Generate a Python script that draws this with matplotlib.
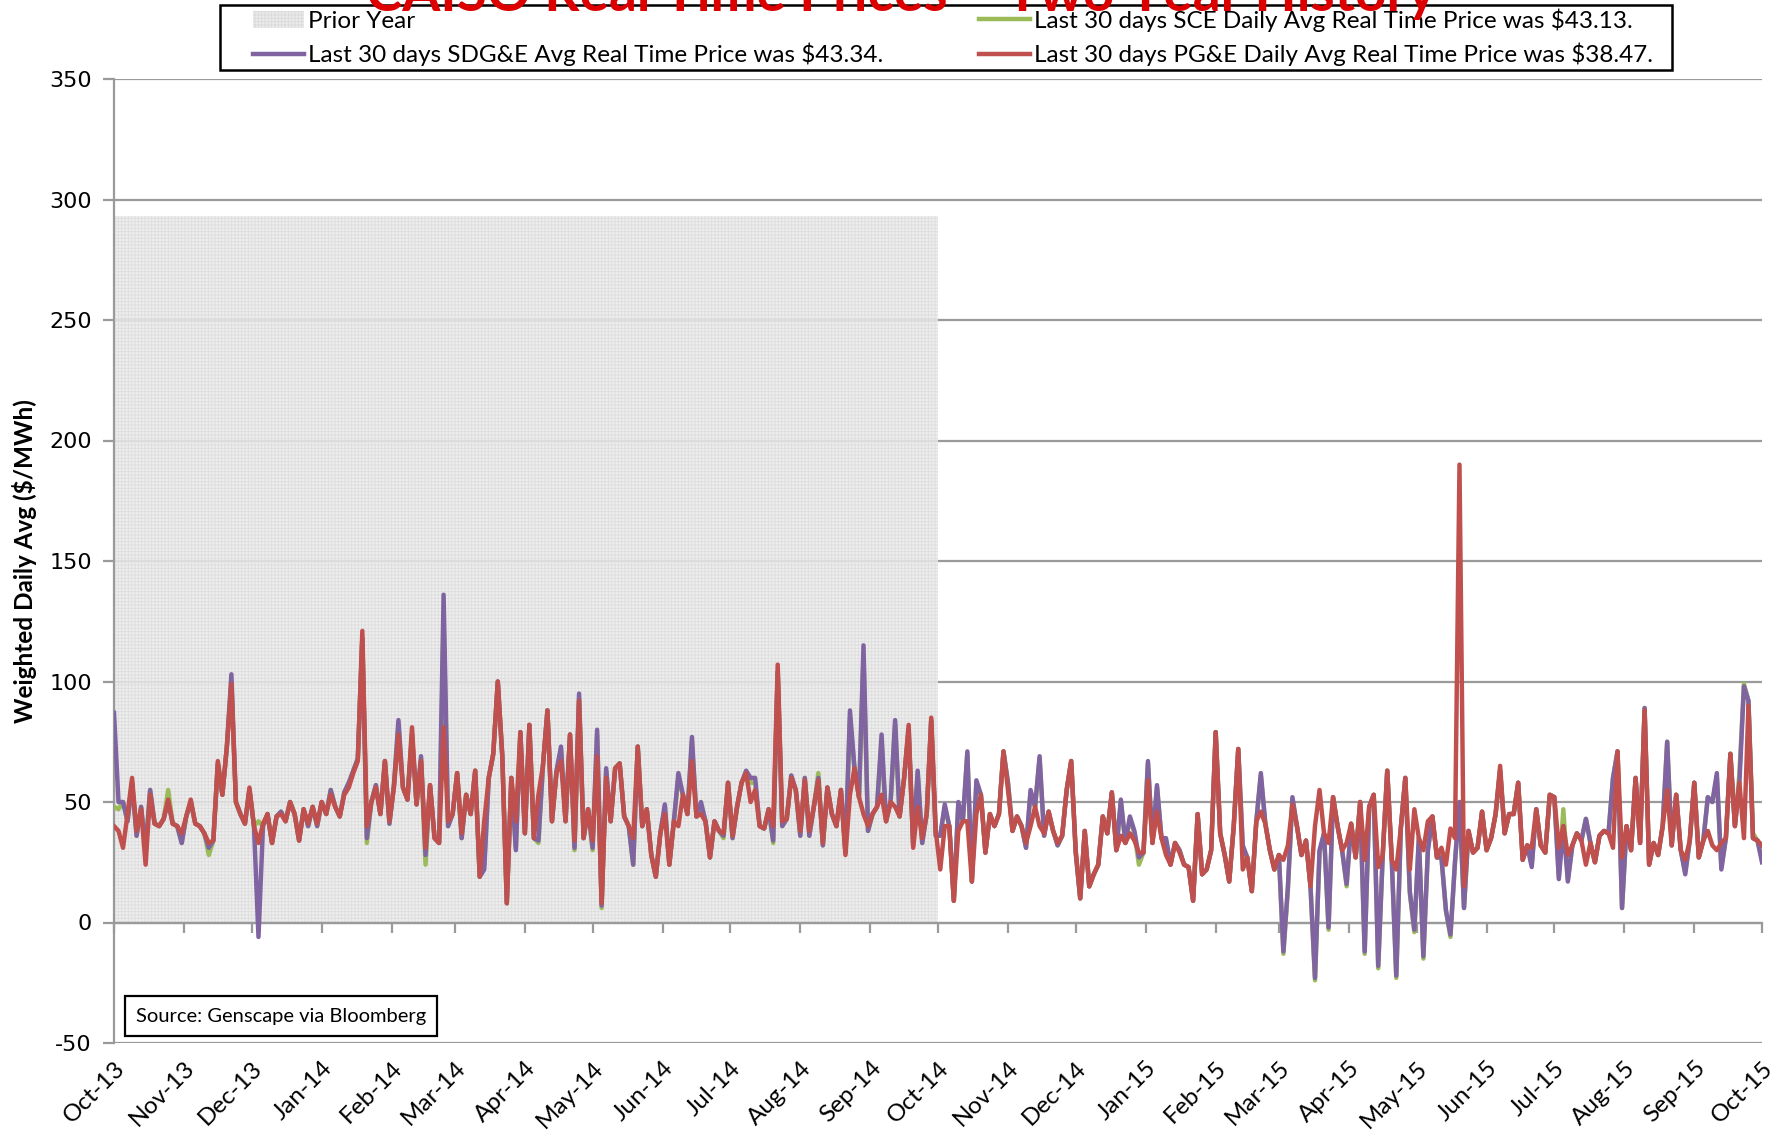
import matplotlib
matplotlib.use("Agg")
import matplotlib.pyplot as plt
import matplotlib.dates as mdates
from matplotlib.patches import Patch, Rectangle
from matplotlib.lines import Line2D
import pandas as pd

# daily avg real time prices, sampled every 2 days from 2013-10-01
start_date = "2013-10-01"
prior_year_end = "2014-10-01"
prior_year_top = 293

pge = [40, 38, 31, 45, 60, 38, 47, 24, 53, 41, 40, 43, 51, 41, 40, 37,
       44, 51, 41, 40, 37, 33, 34, 67, 53, 73, 99, 50, 45, 41, 56, 40,
       33, 41, 45, 33, 44, 45, 42, 50, 45, 34, 47, 41, 48, 41, 50, 45,
       53, 48, 44, 53, 56, 62, 67, 121, 40, 50, 56, 45, 67, 42, 56, 78,
       56, 51, 81, 49, 67, 31, 57, 35, 33, 81, 42, 45, 62, 37, 53, 45,
       63, 19, 42, 60, 70, 100, 69, 8, 60, 42, 79, 37, 82, 35, 53, 65,
       88, 42, 62, 67, 42, 78, 34, 92, 35, 47, 34, 69, 8, 60, 42, 64,
       66, 44, 40, 35, 73, 40, 47, 28, 19, 37, 45, 24, 42, 40, 53, 45,
       67, 44, 45, 42, 27, 42, 38, 37, 58, 36, 48, 58, 62, 50, 55, 40,
       39, 47, 40, 107, 42, 43, 60, 55, 38, 59, 38, 48, 59, 33, 56, 45,
       40, 55, 28, 53, 64, 52, 45, 40, 45, 48, 53, 42, 50, 48, 44, 60,
       82, 31, 48, 35, 45, 85, 38, 22, 40, 40, 9, 38, 42, 42, 17, 45,
       53, 29, 45, 40, 45, 71, 55, 38, 44, 40, 33, 40, 48, 40, 37, 46,
       38, 33, 36, 55, 67, 30, 10, 38, 15, 20, 24, 44, 37, 54, 30, 36,
       33, 37, 34, 29, 29, 59, 33, 46, 35, 28, 24, 33, 29, 24, 23, 9,
       45, 20, 22, 30, 79, 37, 28, 17, 40, 72, 22, 27, 13, 42, 46, 41,
       30, 22, 28, 26, 32, 49, 40, 28, 34, 15, 40, 55, 37, 33, 52, 40,
       30, 33, 41, 27, 50, 26, 48, 53, 23, 28, 63, 26, 22, 39, 60, 22,
       47, 35, 30, 42, 44, 27, 31, 24, 39, 35, 190, 15, 38, 29, 31, 46,
       30, 35, 45, 65, 37, 45, 45, 58, 26, 32, 31, 47, 32, 29, 53, 52,
       31, 40, 28, 32, 37, 34, 24, 33, 25, 36, 38, 37, 31, 71, 27, 40,
       30, 60, 33, 88, 24, 33, 28, 40, 55, 32, 53, 30, 26, 34, 58, 27,
       34, 38, 32, 30, 33, 35, 70, 40, 58, 35, 90, 35, 34, 32]

sdge = [87, 50, 50, 42, 58, 36, 48, 30, 55, 41, 40, 43, 50, 41, 40, 33,
        44, 50, 41, 40, 37, 31, 34, 66, 53, 73, 103, 50, 45, 41, 55, 40,
        -6, 40, 45, 33, 44, 46, 42, 50, 45, 34, 47, 40, 48, 40, 50, 45,
        55, 48, 44, 54, 58, 63, 68, 118, 35, 50, 57, 45, 67, 41, 57, 84,
        56, 51, 78, 49, 69, 28, 57, 35, 33, 136, 40, 45, 62, 35, 53, 45,
        63, 19, 22, 60, 70, 100, 69, 8, 60, 30, 79, 37, 82, 35, 34, 65,
        88, 42, 63, 73, 42, 78, 31, 95, 35, 47, 31, 80, 7, 64, 42, 64,
        66, 44, 40, 24, 73, 40, 47, 28, 19, 37, 49, 24, 42, 62, 53, 45,
        77, 44, 50, 42, 27, 42, 38, 36, 58, 35, 48, 58, 63, 60, 60, 40,
        39, 47, 34, 104, 40, 43, 61, 55, 36, 60, 36, 48, 60, 32, 56, 45,
        40, 55, 29, 88, 64, 52, 115, 38, 45, 48, 78, 42, 50, 84, 44, 60,
        80, 32, 63, 33, 45, 84, 36, 36, 49, 40, 9, 50, 42, 71, 17, 59,
        53, 29, 45, 40, 45, 71, 58, 38, 44, 40, 31, 55, 48, 69, 36, 46,
        38, 32, 36, 55, 67, 29, 10, 38, 15, 20, 24, 44, 37, 54, 30, 51,
        33, 44, 38, 27, 29, 67, 33, 57, 35, 35, 24, 33, 30, 24, 23, 9,
        45, 20, 22, 30, 79, 37, 28, 17, 40, 72, 32, 27, 13, 42, 62, 41,
        30, 22, 28, -12, 15, 52, 40, 28, 34, 15, -23, 30, 37, -2, 52, 40,
        30, 16, 41, 27, 50, -12, 48, 53, -18, 28, 63, 26, -22, 39, 60, 13,
        -3, 35, -14, 30, 44, 27, 27, 5, -5, 25, 50, 6, 38, 29, 31, 46,
        30, 35, 45, 63, 37, 45, 45, 58, 26, 32, 23, 47, 32, 29, 53, 52,
        18, 40, 17, 32, 37, 34, 43, 33, 25, 36, 38, 37, 60, 71, 6, 40,
        30, 60, 33, 89, 24, 33, 28, 40, 75, 32, 53, 30, 20, 34, 58, 27,
        34, 52, 50, 62, 22, 35, 70, 40, 58, 98, 92, 35, 34, 25]

sce = [48, 47, 50, 42, 58, 36, 48, 30, 55, 41, 40, 43, 55, 41, 40, 33,
       44, 50, 41, 40, 37, 28, 34, 66, 53, 73, 100, 50, 45, 41, 55, 40,
       42, 40, 45, 33, 44, 46, 42, 50, 45, 34, 47, 40, 48, 40, 50, 45,
       55, 48, 44, 54, 58, 63, 68, 118, 33, 50, 57, 45, 67, 41, 57, 82,
       56, 51, 78, 49, 68, 24, 57, 35, 33, 125, 40, 45, 62, 35, 53, 45,
       63, 19, 24, 60, 70, 100, 69, 8, 60, 31, 79, 37, 82, 35, 33, 65,
       88, 42, 62, 72, 42, 78, 30, 93, 35, 47, 30, 78, 6, 63, 42, 64,
       66, 44, 40, 24, 73, 40, 47, 28, 19, 37, 48, 24, 42, 60, 53, 45,
       75, 44, 49, 42, 27, 42, 38, 35, 58, 35, 48, 58, 62, 58, 58, 40,
       39, 47, 33, 104, 40, 43, 61, 55, 36, 60, 36, 48, 62, 32, 56, 45,
       40, 55, 29, 85, 64, 52, 110, 38, 45, 48, 75, 42, 50, 82, 44, 60,
       80, 32, 62, 33, 45, 84, 36, 36, 48, 40, 9, 49, 42, 70, 17, 58,
       53, 29, 45, 40, 45, 71, 58, 38, 44, 40, 31, 54, 48, 68, 36, 46,
       38, 32, 36, 55, 67, 29, 10, 38, 15, 20, 24, 44, 37, 54, 30, 50,
       33, 43, 37, 24, 29, 66, 33, 56, 35, 34, 24, 33, 30, 24, 23, 9,
       45, 20, 22, 30, 79, 37, 28, 17, 40, 72, 31, 27, 13, 42, 61, 41,
       30, 22, 28, -13, 14, 51, 40, 28, 34, 15, -24, 29, 37, -3, 52, 40,
       30, 15, 41, 27, 50, -13, 48, 53, -19, 28, 63, 26, -23, 39, 60, 12,
       -4, 35, -15, 30, 44, 27, 27, 5, -6, 25, 50, 6, 38, 29, 31, 46,
       30, 35, 45, 63, 37, 45, 45, 58, 26, 32, 24, 47, 32, 29, 53, 52,
       19, 47, 18, 32, 37, 34, 43, 33, 25, 36, 38, 37, 60, 71, 6, 40,
       30, 60, 33, 89, 24, 33, 28, 40, 75, 32, 53, 30, 21, 34, 58, 27,
       34, 52, 50, 60, 23, 35, 70, 40, 62, 99, 92, 37, 34, 26]

labels = ["Prior Year",
          "Last 30 days SDG&E Avg Real Time Price was $43.34.",
          "Last 30 days SCE Daily Avg Real Time Price was $43.13.",
          "Last 30 days PG&E Daily Avg Real Time Price was $38.47."]

c_sce = "#9BBB59"
c_sdge = "#8064A2"
c_pge = "#C0504D"
grid_c = "#9a9a9a"
txt_font = ["Lato", "DejaVu Sans"]
W, H = 1777, 1137

plt.rcParams["hatch.linewidth"] = 0.6
plt.rcParams["axes.unicode_minus"] = False

dates = pd.date_range(start_date, periods=len(pge), freq="2D")

fig = plt.figure(figsize=(W / 100, H / 100), dpi=100)
ax = fig.add_axes([114 / W, 1 - 1043 / H, 1648 / W, 964 / H])

# title, mostly cut off at the top like the original
fig.text(0.507, 1 - 11 / H, "CAISO Real Time Prices \u2013 Two Year History",
         ha="center", va="baseline", fontsize=39.5, fontweight="bold",
         color="#DD0000", family=txt_font, zorder=10)

# prior year shading
py_start = pd.Timestamp(start_date)
py_width = pd.Timestamp(prior_year_end) - py_start
ax.bar(py_start, prior_year_top, width=py_width, bottom=0, align="edge",
       color="#ebebeb", edgecolor="#dadada", hatch="+++++", linewidth=0,
       alpha=0.85, zorder=1)

lw = 3.2
ax.plot(dates, sce, color=c_sce, lw=lw, zorder=3, solid_joinstyle="round")
ax.plot(dates, sdge, color=c_sdge, lw=lw, zorder=4, solid_joinstyle="round")
ax.plot(dates, pge, color=c_pge, lw=lw, zorder=5, solid_joinstyle="round")

ax.set_ylim(-50, 350)
ax.set_yticks(range(-50, 351, 50))
ax.set_xlim(pd.Timestamp(start_date), dates[-1])
ax.yaxis.grid(True, color=grid_c, lw=1.6, zorder=0)
ax.set_axisbelow(True)

for s in ["top", "right"]:
    ax.spines[s].set_visible(False)
ax.spines["left"].set_color(grid_c)
ax.spines["left"].set_linewidth(1.6)
ax.spines["bottom"].set_position(("data", 0))
ax.spines["bottom"].set_color(grid_c)
ax.spines["bottom"].set_linewidth(1.6)

ax.tick_params(axis="y", direction="out", length=8, width=1.6, color=grid_c,
               pad=8, labelsize=16)
ax.xaxis.set_major_locator(mdates.MonthLocator())
ax.xaxis.set_major_formatter(mdates.DateFormatter("%b-%y"))
ax.tick_params(axis="x", direction="out", length=7, width=1.6, color=grid_c,
               pad=90)
for lab in ax.get_xticklabels():
    lab.set_rotation(45)
    lab.set_ha("right")
    lab.set_va("top")
    lab.set_rotation_mode("anchor")
    lab.set_fontsize(17.5)
    lab.set_family(txt_font)

ax.set_ylabel("Weighted Daily Avg ($/MWh)", fontsize=17.5, fontweight="bold",
              family=txt_font)
ax.yaxis.set_label_coords(-0.047, 0.5)

ax.text(0.0134, 0.028, "Source: Genscape via Bloomberg", transform=ax.transAxes,
        fontsize=14.5, family=txt_font, va="center", ha="left", zorder=6,
        bbox=dict(boxstyle="square,pad=0.55", fc="white", ec="black", lw=1.6))

# legend box drawn separately so it can have the wide side margins
fig.add_artist(Rectangle((220 / W, 1 - 70 / H), 1452 / W, 65 / H,
                         transform=fig.transFigure, fc="white", ec="black",
                         lw=1.8, zorder=4))
handles = [Patch(facecolor="#ebebeb", edgecolor="#dadada", hatch="+++++", lw=0),
           Line2D([], [], color=c_sdge, lw=lw),
           Line2D([], [], color=c_sce, lw=lw),
           Line2D([], [], color=c_pge, lw=lw)]
leg = fig.legend(handles, labels, ncol=2, loc="upper left",
                 bbox_to_anchor=(251 / W, 1 - 6 / H), borderaxespad=0,
                 frameon=False, prop=dict(family=txt_font, size=17.5),
                 handlelength=2.1, handletextpad=0.15, columnspacing=3.95,
                 labelspacing=0.45, borderpad=0.1)
leg.set_zorder(5)

fig.savefig("out.png", dpi=100, facecolor="white")
